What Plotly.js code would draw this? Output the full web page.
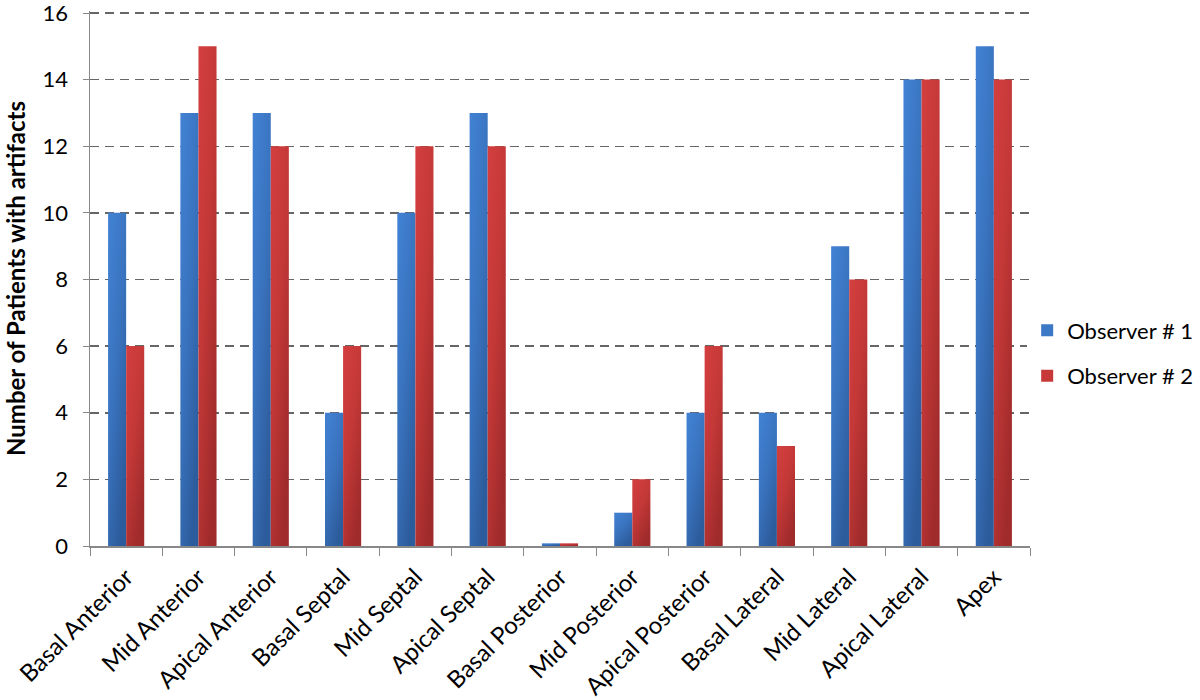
<!DOCTYPE html>
<html>
<head>
<meta charset="utf-8">
<script src="https://cdn.plot.ly/plotly-3.0.1.min.js"></script>
<style>html,body{margin:0;padding:0;background:#fff;}#chart{width:1200px;height:700px;}</style>
</head>
<body>
<div id="chart"></div>
<script>
const categories = ["Basal Anterior","Mid Anterior","Apical Anterior","Basal Septal","Mid Septal","Apical Septal","Basal Posterior","Mid Posterior","Apical Posterior","Basal Lateral","Mid Lateral","Apical Lateral","Apex"];
const observer1 = [10,13,13,4,10,13,0.08,1,4,4,9,14,15];
const observer2 = [6,15,12,6,12,12,0.08,2,6,3,8,14,14];
const yTicks = [0,2,4,6,8,10,12,14,16];

const font = "Lato, 'Open Sans', sans-serif";
const traces = [
  {type:"bar", name:"Observer # 1", x:categories, y:observer1, legendgroup:"a",
   marker:{color:"#3b78c6"}},
  {type:"bar", name:"Observer # 2", x:categories, y:observer2, legendgroup:"b",
   marker:{color:"#c73838"}}
];
const layout = {
  width:1200, height:700,
  margin:{l:90, r:170, t:11, b:154, autoexpand:false},
  paper_bgcolor:"#fff", plot_bgcolor:"#fff",
  barmode:"group", bargap:0.5, bargroupgap:0,
  font:{family:font, color:"#000", size:22},
  showlegend:true,
  legend:{x:0.997, xanchor:"left", y:0.36, yanchor:"middle", traceorder:"grouped",
          tracegroupgap:14, font:{size:22, family:font}},
  xaxis:{type:"category", tickangle:-45, ticks:"outside", tickson:"boundaries",
         ticklen:8, tickcolor:"#888", showline:true, linecolor:"#888", linewidth:1.5,
         ticklabelstandoff:6, automargin:false,
         tickfont:{size:24, family:font}, showgrid:false, fixedrange:true},
  yaxis:{range:[0,16.06], autorange:false, tickmode:"array", tickvals:yTicks, ticks:"outside", ticklen:6, tickcolor:"#888",
         showline:true, linecolor:"#888", linewidth:1.5, zeroline:false,
         gridcolor:"#666", griddash:"9px,6px", gridwidth:1.5,
         ticklabelstandoff:10, automargin:false, ticklabeloverflow:"allow",
         tickfont:{size:22, family:font},
         title:{text:"<b>Number of Patients with artifacts</b>", font:{size:24, family:font}, standoff:10}}
};
Plotly.newPlot("chart", traces, layout, {displayModeBar:false, staticPlot:true}).then(function(gd){
  const svg = gd.querySelector("svg.main-svg");
  const ns = "http://www.w3.org/2000/svg";
  let defs = svg.querySelector("defs");
  function grad(id, stops){
    const g = document.createElementNS(ns,"linearGradient");
    g.setAttribute("id",id); g.setAttribute("x1","0"); g.setAttribute("y1","0");
    g.setAttribute("x2","0.6"); g.setAttribute("y2","1");
    stops.forEach(function(s){
      const st = document.createElementNS(ns,"stop");
      st.setAttribute("offset",s[0]); st.setAttribute("stop-color",s[1]);
      g.appendChild(st);
    });
    defs.appendChild(g);
  }
  grad("gBlue",[["0","#4282d4"],["0.5","#3a74c0"],["1","#2d5c9c"]]);
  grad("gRed",[["0","#d43f3f"],["0.5","#c43838"],["1","#a02b2b"]]);
  const tr = gd.querySelectorAll(".barlayer .trace");
  const ids = ["gBlue","gRed"];
  tr.forEach(function(t,i){
    t.querySelectorAll("path").forEach(function(p){ p.style.fill = "url(#"+ids[i]+")"; });
  });
});
</script>
</body>
</html>
